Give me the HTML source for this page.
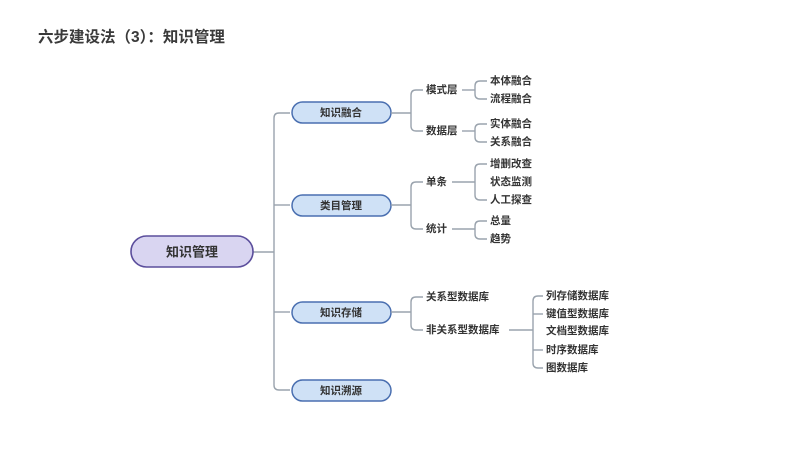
<!DOCTYPE html>
<html><head><meta charset="utf-8"><style>
html,body{margin:0;padding:0;background:#fff;}
svg{display:block;}
text{font-family:"Liberation Sans","Noto Sans CJK SC",sans-serif;fill:#333;font-weight:bold;}
.l{font-size:10.5px;dominant-baseline:central;}
path,line{stroke:#9aa3ad;stroke-width:1.4;fill:none;}
</style></head><body>
<svg width="800" height="450" viewBox="0 0 800 450" xmlns="http://www.w3.org/2000/svg">
<text x="38" y="42" style="font-size:15.5px;fill:#3a3a3a">六步建设法（3）：知识管理</text>

<!-- trunk -->
<line x1="253" y1="252" x2="274" y2="252"/>
<path d="M290 113 H279 Q274 113 274 118 V385 Q274 390 279 390 H290"/>
<line x1="274" y1="205" x2="290" y2="205"/>
<line x1="274" y1="312" x2="290" y2="312"/>

<rect x="131" y="236" width="122" height="31" rx="15.5" fill="#d9d5f1" stroke="#5b4e9c" stroke-width="1.6"/>
<text x="192" y="252" text-anchor="middle" style="font-size:13px;dominant-baseline:central">知识管理</text>

<g fill="#cfe1f6" stroke="#4a6fb0" stroke-width="1.5">
<rect x="292" y="102" width="99" height="21" rx="10.5"/>
<rect x="292" y="195" width="99" height="21" rx="10.5"/>
<rect x="292" y="302" width="99" height="21" rx="10.5"/>
<rect x="292" y="380" width="99" height="21" rx="10.5"/>
</g>
<g class="l" text-anchor="middle">
<text class="l" x="341" y="113" text-anchor="middle">知识融合</text>
<text class="l" x="341" y="206" text-anchor="middle">类目管理</text>
<text class="l" x="341" y="313" text-anchor="middle">知识存储</text>
<text class="l" x="341" y="391" text-anchor="middle">知识溯源</text>
</g>

<!-- 知识融合 -->
<line x1="391" y1="113" x2="411" y2="113"/>
<path d="M423 90 H416 Q411 90 411 95 V126 Q411 131 416 131 H423"/>
<text class="l" x="426" y="90">模式层</text>
<text class="l" x="426" y="131">数据层</text>
<line x1="462" y1="90" x2="475" y2="90"/>
<path d="M487 81 H480 Q475 81 475 86 V94 Q475 99 480 99 H487"/>
<text class="l" x="490" y="81">本体融合</text>
<text class="l" x="490" y="99">流程融合</text>
<line x1="462" y1="131" x2="475" y2="131"/>
<path d="M487 124 H480 Q475 124 475 129 V137 Q475 142 480 142 H487"/>
<text class="l" x="490" y="124">实体融合</text>
<text class="l" x="490" y="142">关系融合</text>

<!-- 类目管理 -->
<line x1="391" y1="205" x2="411" y2="205"/>
<path d="M423 182 H416 Q411 182 411 187 V224 Q411 229 416 229 H423"/>
<text class="l" x="426" y="182">单条</text>
<text class="l" x="426" y="229">统计</text>
<line x1="452" y1="182" x2="475" y2="182"/>
<path d="M487 164 H480 Q475 164 475 169 V195 Q475 200 480 200 H487"/>
<text class="l" x="490" y="164">增删改查</text>
<text class="l" x="490" y="182">状态监测</text>
<text class="l" x="490" y="200">人工探查</text>
<line x1="452" y1="229" x2="475" y2="229"/>
<path d="M487 221 H480 Q475 221 475 226 V234 Q475 239 480 239 H487"/>
<text class="l" x="490" y="221">总量</text>
<text class="l" x="490" y="239">趋势</text>

<!-- 知识存储 -->
<line x1="391" y1="312" x2="411" y2="312"/>
<path d="M423 297 H416 Q411 297 411 302 V325 Q411 330 416 330 H423"/>
<text class="l" x="426" y="297">关系型数据库</text>
<text class="l" x="426" y="330">非关系型数据库</text>
<line x1="509" y1="330" x2="533" y2="330"/>
<path d="M543 296 H538 Q533 296 533 301 V363 Q533 368 538 368 H543"/>
<line x1="533" y1="314" x2="543" y2="314"/>
<line x1="533" y1="350" x2="543" y2="350"/>
<text class="l" x="546" y="296">列存储数据库</text>
<text class="l" x="546" y="314">键值型数据库</text>
<text class="l" x="546" y="331">文档型数据库</text>
<text class="l" x="546" y="350">时序数据库</text>
<text class="l" x="546" y="368">图数据库</text>
</svg>
</body></html>
